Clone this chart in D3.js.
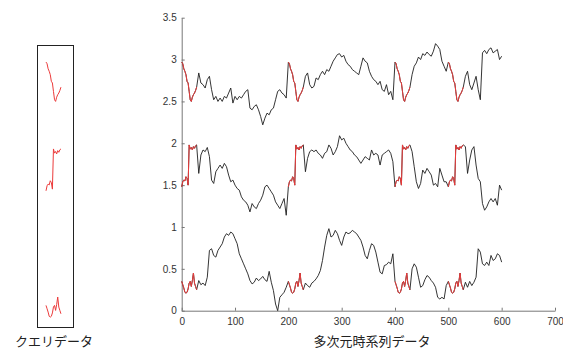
<!DOCTYPE html>
<html><head><meta charset="utf-8">
<script src="https://cdn.jsdelivr.net/npm/d3@7"></script>
<style>
html,body{margin:0;padding:0;background:#fff;}
svg{display:block;}
.tick text{font-family:"Liberation Sans",Arial,sans-serif;font-size:10px;fill:#333;}
.lbl{font-family:"Noto Sans CJK JP",sans-serif;font-size:13px;fill:#222;}
</style>
</head><body>
<script>
// ---- data ----
const xTicks = [0,100,200,300,400,500,600,700];
const yTicks = [0,0.5,1,1.5,2,2.5,3,3.5];
const queryOffsets = [0,200,400,500];   // where the query appears (x)
const segmentStarts = [32,232,432,532]; // background segments (step 4)
const queryStep = 2, segStep = 4;

// query subsequences (x = 0..28, step 2)
const q1 = [2.97,2.95,2.89,2.86,2.82,2.74,2.72,2.62,2.52,2.50,2.55,2.58,2.60,2.63,2.67];
const q2 = [1.48,1.54,1.56,1.55,1.60,1.58,1.50,1.98,1.93,1.95,1.92,1.96,1.94,1.97,1.98];
const q3 = [0.35,0.31,0.27,0.22,0.21,0.22,0.26,0.33,0.35,0.29,0.36,0.45,0.33,0.29,0.25];

// dimension 1 (top)
const s1A = [2.84,2.72,2.70,2.66,2.76,2.80,2.64,2.52,2.56,2.50,2.54,2.50,2.56,2.54,2.60,2.66,2.48,2.56,2.52,2.56,2.54,2.58,2.62,2.64,2.42,2.40,2.44,2.46,2.40,2.32,2.22,2.30,2.36,2.34,2.40,2.42,2.52,2.62,2.64,2.60,2.58,2.54];
const s1B = [2.80,2.84,2.70,2.66,2.68,2.78,2.76,2.82,2.86,2.82,2.88,2.86,2.92,2.98,3.02,3.06,3.07,3.03,3.05,2.98,2.94,2.92,2.88,2.86,2.84,2.82,2.92,3.02,2.98,2.96,2.86,2.80,2.76,2.74,2.70,2.74,2.64,2.62,2.70,2.58,2.62,2.52];
const s1C = [2.82,2.92,2.96,3.03,3.00,3.07,3.05,3.09,3.06,3.04,3.10,3.19,3.16,3.12,2.98,2.92,2.86];
const s1D = [2.80,2.86,2.70,2.64,2.72,2.80,2.64,2.52,3.08,3.11,3.07,3.12,3.14,3.08,3.10,3.12,3.00,3.04];

// dimension 2 (middle)
const s2A = [1.64,1.86,1.92,1.90,1.95,1.84,1.56,1.52,1.66,1.70,1.74,1.70,1.76,1.72,1.62,1.54,1.56,1.50,1.46,1.44,1.36,1.32,1.30,1.26,1.18,1.28,1.24,1.22,1.28,1.32,1.38,1.48,1.50,1.46,1.42,1.38,1.30,1.26,1.22,1.28,1.34,1.14];
const s2B = [1.66,1.82,1.90,1.92,1.90,1.92,1.88,1.86,1.82,1.88,1.90,1.98,1.94,1.86,1.90,1.96,2.09,2.04,2.06,2.00,1.96,1.92,1.90,1.86,1.84,1.80,1.76,1.80,1.84,1.82,1.80,1.92,1.86,1.88,1.86,1.74,1.86,1.88,1.90,1.92,1.88,1.78];
const s2C = [1.90,1.72,1.54,1.46,1.52,1.68,1.64,1.70,1.66,1.62,1.50,1.52,1.48,1.70,1.62,1.54,1.54];
const s2D = [1.96,1.64,1.80,1.92,1.96,1.74,1.58,1.54,1.28,1.20,1.24,1.30,1.34,1.30,1.34,1.26,1.50,1.44];

// dimension 3 (bottom)
const s3A = [0.36,0.31,0.33,0.30,0.40,0.72,0.74,0.66,0.64,0.72,0.76,0.80,0.88,0.92,0.90,0.94,0.92,0.86,0.80,0.68,0.62,0.56,0.50,0.44,0.36,0.32,0.34,0.39,0.36,0.38,0.41,0.37,0.35,0.47,0.34,0.24,0.08,0.00,0.16,0.19,0.22,0.28];
const s3B = [0.33,0.30,0.28,0.33,0.35,0.38,0.42,0.48,0.60,0.76,0.90,0.98,0.88,0.90,0.96,0.92,0.84,0.78,0.88,0.94,0.92,0.93,0.96,0.94,0.92,0.88,0.84,0.76,0.66,0.62,0.72,0.80,0.78,0.70,0.58,0.46,0.44,0.54,0.55,0.58,0.56,0.68];
const s3C = [0.50,0.56,0.52,0.40,0.28,0.30,0.37,0.42,0.40,0.36,0.33,0.28,0.16,0.14,0.16,0.14,0.30];
const s3D = [0.34,0.28,0.35,0.30,0.34,0.40,0.74,0.70,0.56,0.54,0.58,0.54,0.66,0.60,0.62,0.68,0.66,0.58];

const dims = [
  {q:q1, segs:[s1A,s1B,s1C,s1D], boxShift:0},
  {q:q2, segs:[s2A,s2B,s2C,s2D], boxShift:4},
  {q:q3, segs:[s3A,s3B,s3C,s3D], boxShift:24}
];

// ---- chart ----
const W = 563, H = 351;
const svg = d3.select("body").append("svg").attr("width",W).attr("height",H);

const x = d3.scaleLinear().domain([0,700]).range([181.7,555]);
const y = d3.scaleLinear().domain([0,3.5]).range([310.7,17.7]);
const xq = d3.scaleLinear().domain([0,700]).range([46,46+(555-181.7)]);

const line = d3.line().x(d=>x(d.x)).y(d=>y(d.v));
const qline = d3.line().x(d=>xq(d.x)).y(d=>y(d.v));

function queryPts(q, off){ return q.map((v,i)=>({x:off+i*queryStep, v})); }
function build(dim){
  let pts = [];
  queryOffsets.forEach((o,k)=>{
    pts = pts.concat(queryPts(dim.q,o));
    pts = pts.concat(dim.segs[k].map((v,i)=>({x:segmentStarts[k]+i*segStep, v})));
  });
  return pts;
}

// axes
const gx = svg.append("g").attr("transform",`translate(0,${y(0)})`)
  .call(d3.axisBottom(x).tickValues(xTicks).tickSizeInner(-3).tickSizeOuter(0).tickPadding(7).tickFormat(d=>String(d)));
const gy = svg.append("g").attr("transform",`translate(${x(0)},0)`)
  .call(d3.axisLeft(y).tickValues(yTicks).tickSizeInner(-3).tickSizeOuter(0).tickPadding(5).tickFormat(d=>String(d)));
[gx,gy].forEach(g=>{
  g.select(".domain").attr("stroke","#777").attr("stroke-width",1);
  g.selectAll(".tick line").attr("stroke","#777");
});

// series lines
dims.forEach(dim=>{
  const pts = build(dim);
  svg.append("path").datum(pts).attr("d",line)
    .attr("fill","none").attr("stroke","#1e1e1e").attr("stroke-width",0.9).attr("stroke-linejoin","round");
  queryOffsets.forEach(o=>{
    svg.append("path").datum(queryPts(dim.q,o)).attr("d",line)
      .attr("fill","none").attr("stroke","#ec3b3b").attr("stroke-width",1).attr("stroke-linejoin","round");
  });
});

// query box
svg.append("rect").attr("x",37.5).attr("y",45.5).attr("width",36).attr("height",282)
  .attr("fill","none").attr("stroke","#222").attr("stroke-width",1);
dims.forEach(dim=>{
  svg.append("path").datum(queryPts(dim.q,0)).attr("d",qline)
    .attr("transform",`translate(0,${dim.boxShift})`)
    .attr("fill","none").attr("stroke","#ec3b3b").attr("stroke-width",1).attr("stroke-linejoin","round");
});

// labels
svg.append("text").attr("class","lbl").attr("x",54).attr("y",346).attr("text-anchor","middle").text("クエリデータ");
svg.append("text").attr("class","lbl").attr("x",372).attr("y",346).attr("text-anchor","middle").text("多次元時系列データ");
</script>
</body></html>
